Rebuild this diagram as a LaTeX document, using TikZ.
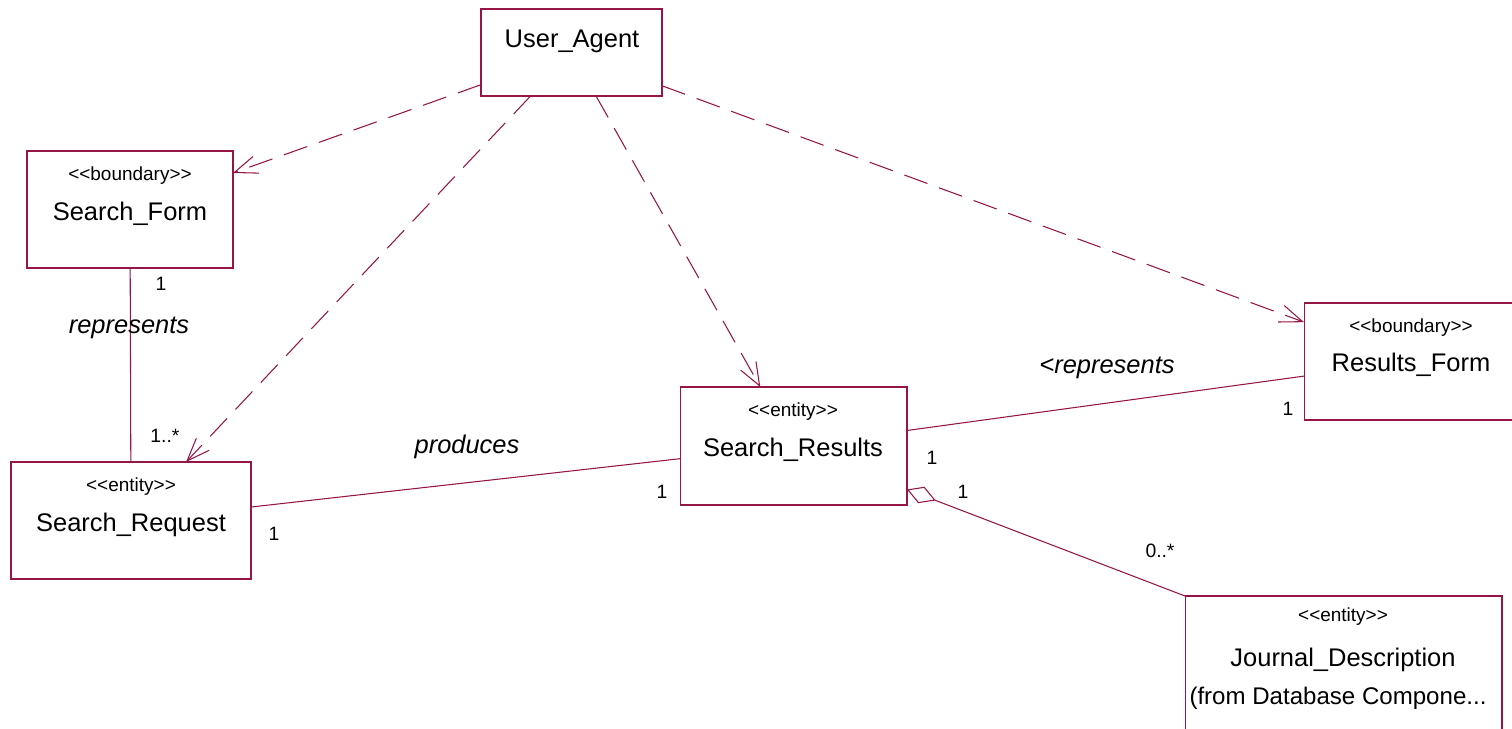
\documentclass[tikz,border=0pt]{standalone}
\usepackage{fontspec}
\setmainfont{Liberation Sans}
\usetikzlibrary{arrows.meta}
\definecolor{umlred}{RGB}{150,20,70}
\tikzset{
  box/.style={draw=umlred, line width=0.6pt, rectangle, outer sep=0pt, inner sep=0pt},
  nametext/.style={font=\fontsize{14.5}{17}\selectfont, anchor=base, inner sep=0pt},
  stereo/.style={font=\fontsize{10.8}{13}\selectfont, anchor=base, inner sep=0pt},
  mult/.style={font=\fontsize{11}{13}\selectfont, inner sep=0pt},
  role/.style={font=\fontsize{14.5}{17}\selectfont\itshape, inner sep=0pt},
  dep/.style={draw=umlred, line width=0.6pt, dash pattern=on 14pt off 7pt, -{Straight Barb[length=13pt,width=10pt,line width=0.6pt]}},
  assoc/.style={draw=umlred, line width=0.6pt},
}
\begin{document}
\begin{tikzpicture}[x=0.02cm,y=-0.02cm]
\useasboundingbox (0,0) rectangle (1512,729);
% boxes
\node[box, minimum width=3.62cm, minimum height=1.74cm] (ua) at (571.5,52.5) {};
\node[box, minimum width=4.12cm, minimum height=2.34cm] (sf) at (130,209.5) {};
\node[box, minimum width=4.8cm, minimum height=2.34cm] (sr) at (131,520.5) {};
\node[box, minimum width=4.54cm, minimum height=2.36cm] (sres) at (793.5,446) {};
\node[box, minimum width=4.28cm, minimum height=2.34cm] (rf) at (1411,361.5) {};
\node[box, minimum width=6.34cm, minimum height=3.28cm] (jd) at (1343.5,678) {};
% texts
\node[nametext] (uat) at (572,48) {User\_Agent};
\node[stereo] (sfs) at (130,181) {<{}<boundary>{}>};
\node[nametext] (sft) at (130,221) {Search\_Form};
\node[stereo] (srs) at (131,492) {<{}<entity>{}>};
\node[nametext] (srt) at (131,531.5) {Search\_Request};
\node[stereo] (sress) at (793,416.5) {<{}<entity>{}>};
\node[nametext] (srest) at (793,456.5) {Search\_Results};
\node[stereo] (rfs) at (1411,332.5) {<{}<boundary>{}>};
\node[nametext] (rft) at (1411,371.5) {Results\_Form};
\node[stereo] (jds) at (1343,622) {<{}<entity>{}>};
\node[nametext] (jdt) at (1343,666) {Journal\_Description};
\node[nametext, font=\fontsize{13.7}{17}\selectfont] (jdf) at (1338,704) {(from Database Compone...};
% dependencies
\draw[dep] (ua) -- (sf);
\draw[dep] (ua) -- (sr);
\draw[dep] (ua) -- (sres);
\draw[dep] (ua) -- (rf);
% associations
\draw[assoc] (sf) -- (sr);
\draw[assoc] (sr) -- (sres);
\draw[assoc] (sres) -- (rf);
\draw[assoc, {Diamond[open,length=17.5pt,width=10pt,line width=0.6pt,fill=white]}-] (sres) -- (jd.north west);
% labels
\node[mult] (m1) at (161,284) {1};
\node[role] (r1) at (129,328) {represents};
\node[mult] (m2) at (165,436) {1..*};
\node[mult] (m3) at (274,534) {1};
\node[role] (r2) at (467,447) {produces};
\node[mult] (m4) at (662,492) {1};
\node[mult] (m5) at (932,458) {1};
\node[role] (r3) at (1107,368) {<represents};
\node[mult] (m6) at (1288,409) {1};
\node[mult] (m7) at (963,492) {1};
\node[mult] (m8) at (1160,551) {0..*};
\end{tikzpicture}
\end{document}
